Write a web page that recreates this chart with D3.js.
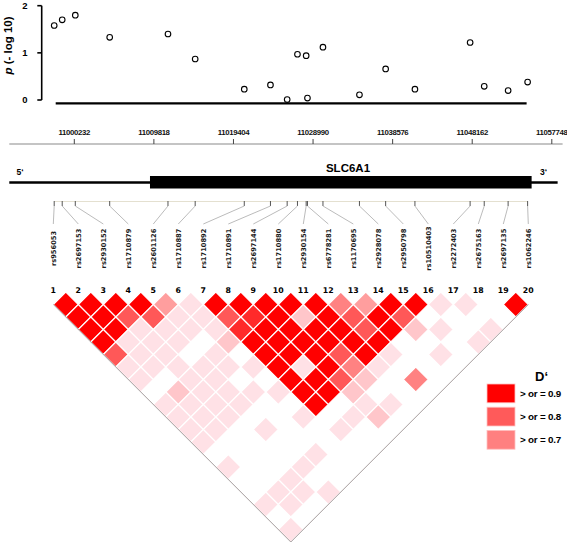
<!DOCTYPE html>
<html><head><meta charset="utf-8">
<script src="https://cdn.jsdelivr.net/npm/d3@7/dist/d3.min.js"></script>
<style>body{margin:0;background:#fff}svg{display:block}</style>
</head><body>
<svg id="chart" width="567" height="542"></svg>
<script>
// ---------- data ----------
const snpNames = ["rs956053","rs2697153","rs2930152","rs1710879","rs2601126","rs1710887","rs1710892","rs1710891","rs2697144","rs1710880","rs2930154","rs6778281","rs1170695","rs2928078","rs2950798","rs10510403","rs2272403","rs2675163","rs2697135","rs1062246"];
const snpPositions = [10997811,10998775,11000352,11004495,11011516,11014792,11020705,11023860,11025872,11027112,11028160,11028316,11030183,11034579,11037734,11041262,11047910,11049608,11052487,11054835];
const pValues = [1.58,1.70,1.80,1.33,1.40,0.87,0.23,0.32,0.01,0.97,0.94,0.04,1.12,0.11,0.66,0.23,1.22,0.29,0.20,0.38];
const pTicks = [0,1,2];
const axisTicks = [11000232,11009818,11019404,11028990,11038576,11048162,11057748];
const axisExtent = [10992400,11059050];
const geneName = "SLC6A1";
const geneExtent = [10992400,11058450];
const geneBody = [11009348,11055317];
// LD (D') level codes per diagonal row: row r holds pairs (i, i+r), i = 1..20-r
const ldRows = [
  "AAAAGFAAAAADGAAFFWA",
  "AACCFFCBAEACACWWWW",
  "AAFFFFBAAAACAEFWF",
  "AFFFWEAAAAAAWWWF",
  "CFFWFWAAACAFWFW",
  "FFFFFFAFADFWWW",
  "FWFFWWAACEWDW",
  "WEFFFFAAEWWW",
  "FFFFWWAWFFW",
  "FFFWWFWFEW",
  "FFWFWWFWW",
  "FWWWWWWW",
  "WWWWFWW",
  "FWWFWW",
  "WWFWW",
  "WFFF",
  "FFW",
  "WW",
  "F"
];
const ldLevelCodes = ["A","B","C","D","G","E","F"];
const ldLevelColors = ["#ff0000","#ff2a2a","#ff5858","#ff8282","#ff9e9e","#ffc6ca","#ffe1e6"];
const legendLabels = ["> or = 0.9","> or = 0.8","> or = 0.7"];
const legendColors = ["#ff0000","#ff5a5a","#ff8080"];

// ---------- drawing ----------
const svg = d3.select("#chart");
const FONT = "'Liberation Sans', Arial, sans-serif";

const gx = d3.scaleLinear().domain([11000232,11057748]).range([74.3,551.8]);
const py = d3.scaleLinear().domain([0,2]).range([100,5.7]);

// --- association plot ---
const assoc = svg.append("g");
assoc.append("line").attr("x1",41.7).attr("x2",41.7).attr("y1",py(2)).attr("y2",py(0))
  .attr("stroke","#000").attr("stroke-width",1.6);
assoc.selectAll(".ptick").data(pTicks).join("line")
  .attr("x1",37.3).attr("x2",41.7).attr("y1",d=>py(d)).attr("y2",d=>py(d))
  .attr("stroke","#000").attr("stroke-width",1.6);
assoc.selectAll(".plab").data(pTicks).join("text")
  .attr("x",27.5).attr("y",d=>py(d)).attr("dy","0.36em").attr("text-anchor","end")
  .attr("font-family",FONT).attr("font-weight","bold").attr("font-size",9.5).text(d=>d);
const yl = assoc.append("text").attr("transform","translate(11.5,45.5) rotate(-90)")
  .attr("text-anchor","middle").attr("font-family",FONT).attr("font-weight","bold").attr("font-size",11.5);
yl.append("tspan").attr("font-style","italic").text("p");
yl.append("tspan").text(" (- log 10)");
assoc.append("line").attr("x1",gx(snpPositions[0])+1.5).attr("x2",gx(snpPositions[19])-1)
  .attr("y1",103.3).attr("y2",103.3).attr("stroke","#000").attr("stroke-width",2.2);
assoc.selectAll("circle").data(pValues).join("circle")
  .attr("cx",(d,i)=>gx(snpPositions[i])).attr("cy",d=>py(d)).attr("r",2.8)
  .attr("fill","#fff").attr("stroke","#000").attr("stroke-width",1.1);

// --- genomic axis ---
const ax = svg.append("g");
ax.append("line").attr("x1",gx(axisExtent[0])).attr("x2",gx(axisExtent[1])).attr("y1",144).attr("y2",144)
  .attr("stroke","#8a8a8a").attr("stroke-width",1.2);
ax.selectAll(".gt").data(axisTicks).join("line")
  .attr("x1",d=>gx(d)).attr("x2",d=>gx(d)).attr("y1",139).attr("y2",144)
  .attr("stroke","#444").attr("stroke-width",1);
ax.selectAll(".gl").data(axisTicks).join("text")
  .attr("x",d=>gx(d)).attr("y",134.5).attr("text-anchor","middle")
  .attr("font-family",FONT).attr("font-weight","bold").attr("font-size",7.8).attr("letter-spacing",-0.35)
  .attr("fill","#111").text(d=>d);

// --- gene ---
const gene = svg.append("g");
gene.append("line").attr("x1",gx(geneExtent[0])).attr("x2",gx(geneExtent[1])).attr("y1",182.5).attr("y2",182.5)
  .attr("stroke","#000").attr("stroke-width",2.4);
gene.append("rect").attr("x",gx(geneBody[0])).attr("width",gx(geneBody[1])-gx(geneBody[0]))
  .attr("y",176).attr("height",12.5).attr("fill","#000");
gene.append("text").attr("x",348).attr("y",172).attr("text-anchor","middle")
  .attr("font-family",FONT).attr("font-weight","bold").attr("font-size",11.5).text(geneName);
gene.append("text").attr("x",20).attr("y",174.5).attr("text-anchor","middle")
  .attr("font-family",FONT).attr("font-weight","bold").attr("font-size",8.5).text("5\u2018");
gene.append("text").attr("x",543.5).attr("y",174.5).attr("text-anchor","middle")
  .attr("font-family",FONT).attr("font-weight","bold").attr("font-size",8.5).text("3\u2018");

// --- SNP markers ---
const idx = d3.range(1,21);
const lx = d3.scalePoint().domain(idx).range([53.3,528.3]);
const mk = svg.append("g");
mk.append("line").attr("x1",gx(snpPositions[0])).attr("x2",gx(snpPositions[19])).attr("y1",201.5).attr("y2",201.5)
  .attr("stroke","#e4e0d0").attr("stroke-width",1);
mk.selectAll(".st").data(snpPositions).join("line")
  .attr("x1",d=>gx(d)).attr("x2",d=>gx(d)).attr("y1",201).attr("y2",206)
  .attr("stroke","#555").attr("stroke-width",1);
mk.selectAll(".sc").data(snpPositions).join("line")
  .attr("x1",d=>gx(d)).attr("x2",(d,i)=>lx(i+1)).attr("y1",206).attr("y2",224)
  .attr("stroke","#aaa").attr("stroke-width",0.8);
mk.selectAll(".sl").data(snpNames).join("text")
  .attr("transform",(d,i)=>`translate(${lx(i+1)+2.5},248.5) rotate(-90)`)
  .attr("text-anchor","middle").attr("font-family","'DejaVu Sans', Verdana, sans-serif")
  .attr("font-weight","bold").attr("font-size",6.7).attr("fill","#1a1a1a").text(d=>d);

// --- LD triangle ---
const ld = svg.append("g");
const half = 12.5;
const ry = d3.scaleLinear().domain([1,19]).range([304.5,304.5+18*half]);
const colorOf = d3.scaleOrdinal().domain(ldLevelCodes).range(ldLevelColors);
const cells = [];
ldRows.forEach((row,ri)=>{
  const r = ri+1;
  row.split("").forEach((code,k)=>{
    const i = k+1, j = i+r;
    if (code !== "W") cells.push({i,j,r,code});
  });
});
ld.selectAll("path").data(cells).join("path")
  .attr("d",c=>{
    const cx=(lx(c.i)+lx(c.j))/2, cy=ry(c.r);
    return `M${cx},${cy-half}L${cx+half},${cy}L${cx},${cy+half}L${cx-half},${cy}Z`;
  })
  .attr("fill",c=>colorOf(c.code)).attr("stroke","#fff").attr("stroke-width",1.1);
const bx = (lx(1)+lx(20))/2, by = ry(19)+half;
ld.append("path").attr("d",`M${lx(1)},${ry(1)}L${bx},${by}L${lx(20)},${ry(1)}`)
  .attr("fill","none").attr("stroke","#a59d9d").attr("stroke-width",1);
ld.selectAll(".num").data(idx).join("text")
  .attr("x",d=>lx(d)).attr("y",293).attr("text-anchor","middle")
  .attr("font-family","'DejaVu Sans', Verdana, sans-serif").attr("font-weight","bold").attr("font-size",7.8).text(d=>d);

// --- legend ---
const lg = svg.append("g");
lg.append("text").attr("x",541.5).attr("y",381).attr("text-anchor","middle")
  .attr("font-family",FONT).attr("font-weight","bold").attr("font-size",13).text("D\u2018");
lg.selectAll("rect").data(legendColors).join("rect")
  .attr("x",487).attr("y",(d,i)=>384+i*23.2).attr("width",28).attr("height",18.8)
  .attr("fill",d=>d).attr("stroke","#ffc0c0").attr("stroke-width",0.8);
lg.selectAll(".lt").data(legendLabels).join("text")
  .attr("x",520).attr("y",(d,i)=>397+i*23.2)
  .attr("font-family",FONT).attr("font-weight","bold").attr("font-size",9.8).attr("letter-spacing",-0.2)
  .text(d=>d);
</script>
</body></html>
